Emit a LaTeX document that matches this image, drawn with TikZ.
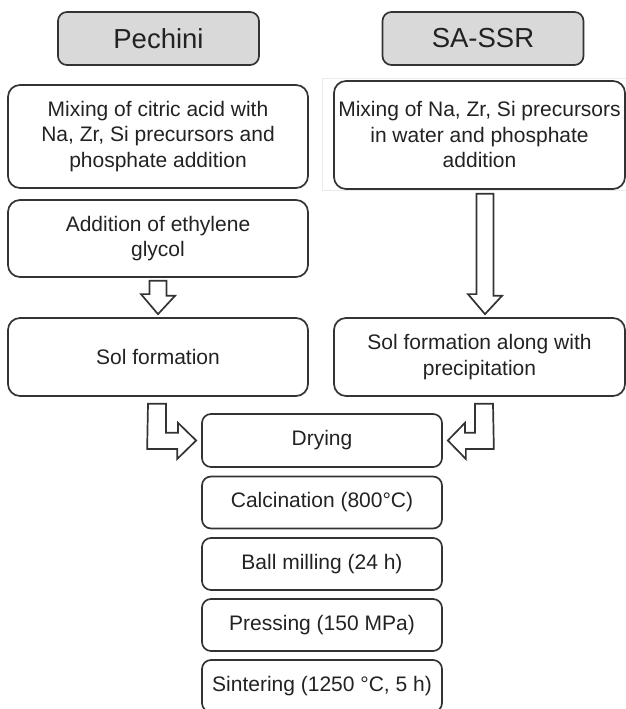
\documentclass[tikz,border=0pt]{standalone}
\usepackage{fontspec}
\setmainfont{Liberation Sans}
\usetikzlibrary{calc}
\definecolor{edge}{HTML}{333333}
\definecolor{ink}{HTML}{222222}
\definecolor{headfill}{HTML}{D9D9D9}
\begin{document}
\begin{tikzpicture}[x=1pt, y=1pt,
    box/.style={draw=edge, line width=1.7pt, rounded corners=12pt, align=center,
        inner sep=0pt, text=ink, font=\fontsize{21}{25.5}\selectfont},
    head/.style={box, fill=headfill, rounded corners=9pt, minimum width=201pt,
        minimum height=53pt, font=\fontsize{27.5}{32}\selectfont},
    stepbox/.style={box, rounded corners=9pt, minimum width=240pt, minimum height=52pt},
    blockarrow/.style={draw=edge, fill=white, line width=1.7pt, line join=miter}]
    % 1. Canvas
    \clip (0,0) rectangle (626,709);
    \draw[black!8, line width=0.8pt] (322,631) -- (626,631) (322,631) -- (322,519) -- (626,519);

    % 2. Headers
    \node[head] (pech) at (158.5,670.5) {Pechini};
    \node[head] (sassr) at (483,670.5) {SA-SSR};

    % 3. Two routes
    \node[box, minimum width=300pt, minimum height=103pt] (mixP) at (158,572.5)
        {Mixing of citric acid with\\Na, Zr, Si precursors and\\phosphate addition};
    \node[box, minimum width=291pt, minimum height=108pt] (mixS) at (479.5,574)
        {Mixing of Na, Zr, Si precursors\\in water and phosphate\\addition};
    \node[box, minimum width=300pt, minimum height=77pt] (addEG) at (158,470.5)
        {Addition of ethylene\\glycol};
    \node[box, minimum width=300pt, minimum height=78pt] (solP) at (158,352)
        {Sol formation};
    \node[box, minimum width=291pt, minimum height=78pt] (solS) at (479.5,352)
        {Sol formation along with\\precipitation};

    % 4. Common steps
    \node[stepbox, minimum height=53pt] (dry) at (322,268.5) {Drying};
    \node[stepbox] (calc) at (322,206.5) {Calcination (800°C)};
    \node[stepbox] (ball) at (322,145) {Ball milling (24 h)};
    \node[stepbox] (press) at (322,84) {Pressing (150 MPa)};
    \node[stepbox] (sint) at (322,23) {Sintering (1250 °C, 5 h)};

    % 5. Block arrows
    \draw[blockarrow] ($(addEG.south)+(-8.5,-3)$) -- ++(17,0) -- ++(0,-15) -- ++(8.5,0)
        -- ($(solP.north)+(0,3)$) -- ++(-17,20) -- ++(8.5,0) -- cycle;
    \draw[blockarrow] ($(mixS.south)+(-3,-4)$) -- ++(17,0) -- ++(0,-102) -- ++(8.5,0)
        -- ($(solS.north)+(5.5,3)$) -- ++(-17,20) -- ++(8.5,0) -- cycle;
    \draw[blockarrow] ($(solP.south)+(-10,-7)$) -- ++(18,0) -- ++(0,-29) -- ++(12,0)
        -- ++(0,10) -- ($(dry.west)+(-5,0)$) -- ++(-19,-18.5) -- ++(0,10) -- ++(-30,0) -- cycle;
    \draw[blockarrow] ($(solS.south)+(13.5,-7)$) -- ++(-18,0) -- ++(0,-29) -- ++(-10,0)
        -- ++(0,10) -- ($(dry.east)+(5,0)$) -- ++(18,-18.5) -- ++(0,10) -- ++(28,0) -- cycle;
\end{tikzpicture}
\end{document}
